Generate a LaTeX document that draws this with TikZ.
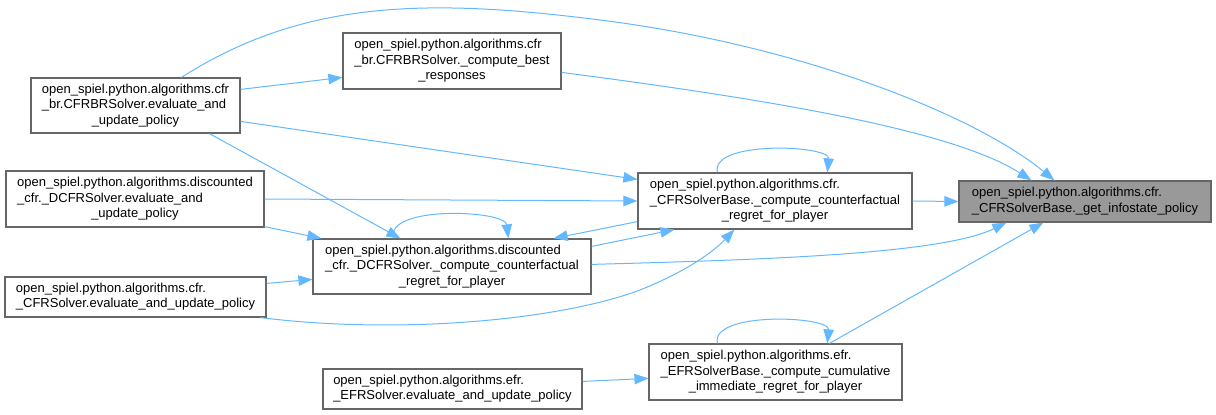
\documentclass[tikz,border=0pt]{standalone}
\usepackage{fontspec}
\setmainfont{Liberation Sans}
\usetikzlibrary{arrows.meta,calc}
\definecolor{edgeblue}{HTML}{63B8FF}
\definecolor{boxgray}{HTML}{666666}
\definecolor{rootfill}{HTML}{999999}
\newcommand{\labthree}[3]{\begin{tabular}{@{}l@{}}#1\\#2\\\multicolumn{1}{@{}c@{}}{#3}\end{tabular}}
\newcommand{\labtwo}[2]{\begin{tabular}{@{}l@{}}#1\\\multicolumn{1}{@{}c@{}}{#2}\end{tabular}}
\tikzset{
  box/.style={draw=boxgray, line width=1.2pt, fill=white, inner sep=0pt,
    font=\fontsize{13}{15.5}\selectfont},
  rootbox/.style={box, fill=rootfill},
  call/.style={draw=edgeblue, line width=1pt, -{Triangle[length=14pt,width=10.5pt]}, color=edgeblue}
}
\begin{document}
\begin{tikzpicture}[x=1pt,y=-1pt]
\useasboundingbox (0,0) rectangle (1216,415);

\node[box, minimum width=209pt, minimum height=55pt] (A) at (135.5,105.5)
  {\labthree{open\_spiel.python.algorithms.cfr}{\_br.CFRBRSolver.evaluate\_and}{\_update\_policy}};
\node[box, minimum width=218pt, minimum height=56pt] (B) at (452,61)
  {\labthree{open\_spiel.python.algorithms.cfr}{\_br.CFRBRSolver.\_compute\_best}{\_responses}};
\node[box, minimum width=258pt, minimum height=56pt] (C) at (135,199)
  {\labthree{open\_spiel.python.algorithms.discounted}{\_cfr.\_DCFRSolver.evaluate\_and}{\_update\_policy}};
\node[box, minimum width=274pt, minimum height=56pt] (D) at (775,201)
  {\labthree{open\_spiel.python.algorithms.cfr.}{\_CFRSolverBase.\_compute\_counterfactual}{\_regret\_for\_player}};
\node[box, minimum width=278pt, minimum height=55pt] (E) at (452,266.5)
  {\labthree{open\_spiel.python.algorithms.discounted}{\_cfr.\_DCFRSolver.\_compute\_counterfactual}{\_regret\_for\_player}};
\node[box, minimum width=261pt, minimum height=40pt] (F) at (135.5,297)
  {\labtwo{open\_spiel.python.algorithms.cfr.}{\_CFRSolver.evaluate\_and\_update\_policy}};
\node[rootbox, minimum width=252pt, minimum height=41pt] (G) at (1085,201.5)
  {\labtwo{open\_spiel.python.algorithms.cfr.}{\_CFRSolverBase.\_get\_infostate\_policy}};
\node[box, minimum width=253pt, minimum height=56pt] (H) at (775.5,372)
  {\labthree{open\_spiel.python.algorithms.efr.}{\_EFRSolverBase.\_compute\_cumulative}{\_immediate\_regret\_for\_player}};
\node[box, minimum width=259pt, minimum height=40pt] (I) at (452.5,389)
  {\labtwo{open\_spiel.python.algorithms.efr.}{\_EFRSolver.evaluate\_and\_update\_policy}};

% A -> G (top curve)
\draw[call] ($(A.north west)+(151,0)$) .. controls (300,2) and (420,-3) .. (600,20)
  .. controls (800,45) and (975,115) .. ($(G.north west)+(96,0)$);
% B -> G
\draw[call] ($(B.north east)+(0,40)$) .. controls (750,97) and (950,128) .. ($(G.north west)+(73,0)$);
% A -> B
\draw[call] ($(A.north east)+(0,12)$) -- ($(B.north west)+(0,45)$);
% A -> D
\draw[call] ($(A.north east)+(0,44)$) -- ($(D.north west)+(0,7)$);
% A -> E
\draw[call] ($(A.south west)+(179,0)$) -- ($(E.north west)+(88,0)$);
% C -> D
\draw[call] (C.east) -- (D.west);
% C -> E
\draw[call] ($(C.south east)+(0,-1)$) -- ($(E.north west)+(9,0)$);
% F -> E
\draw[call] ($(F.north east)+(0,7)$) -- ($(E.north west)+(0,41)$);
% F -> D
\draw[call] ($(F.south east)+(-6,0)$) .. controls (400,335) and (560,320) .. (640,290)
  .. controls (690,270) and (715,250) .. ($(D.south west)+(97,0)$);
% D -> G
\draw[call] (D.east) -- (G.west);
% E -> G
\draw[call] ($(E.north east)+(0,26)$) .. controls (750,260) and (940,255) .. ($(G.south west)+(48,0)$);
% E -> D
\draw[call] ($(E.north east)+(0,8)$) -- ($(D.south west)+(37,0)$);
% D -> E
\draw[call] ($(D.south west)+(0,-8)$) -- ($(E.north east)+(-38,0)$);
% self loops
\draw[call] ($(D.north west)+(80,0)$) .. controls (710,140) and (830,145) .. ($(D.north west)+(190,0)$);
\draw[call] ($(E.north west)+(81,0)$) .. controls (385,205) and (505,210) .. ($(E.north west)+(196,0)$);
\draw[call] ($(H.north west)+(69,0)$) .. controls (710,311) and (830,316) .. ($(H.north west)+(179,0)$);
% H -> G
\draw[call] ($(H.north west)+(181,0)$) -- ($(G.south west)+(85,0)$);
% I -> H
\draw[call] ($(I.north east)+(0,13)$) -- ($(H.north west)+(0,35)$);
\end{tikzpicture}
\end{document}
